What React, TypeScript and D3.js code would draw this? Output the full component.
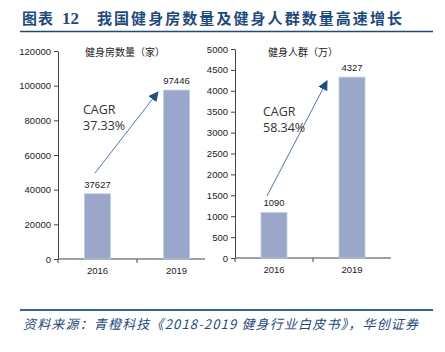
import { useRef, useEffect } from "react";
import * as d3 from "d3";

const years = ["2016", "2019"];
const gymCounts = [37627, 97446];
const peopleCounts = [1090, 4327];
const gymTicks = [0, 20000, 40000, 60000, 80000, 100000, 120000];
const peopleTicks = [0, 500, 1000, 1500, 2000, 2500, 3000, 3500, 4000, 4500, 5000];
const gymTitle = "健身房数量（家）";
const peopleTitle = "健身人群（万）";
const gymCagr = "37.33%";
const peopleCagr = "58.34%";
const chartTitle = "我国健身房数量及健身人群数量高速增长";
const source = "资料来源：青橙科技《2018-2019 健身行业白皮书》，华创证券";

const W = 445;
const H = 352;
const navy = "#1f4a7c";
const barColor = "#9aa6ca";
const axisColor = "#444";

const App = () => {
    const svgRef = useRef(null);

    useEffect(() => {
        const svg = d3.select(svgRef.current);
        svg.selectAll("*").remove();

        // header
        svg.append("text")
            .attr("x", 22).attr("y", 24)
            .attr("font-family", "Noto Sans CJK SC").attr("font-weight", "bold")
            .attr("font-size", 15).attr("fill", navy)
            .attr("textLength", 31).attr("lengthAdjust", "spacing")
            .text("图表");
        svg.append("text")
            .attr("x", 62).attr("y", 24)
            .attr("font-family", "Liberation Serif").attr("font-weight", "bold")
            .attr("font-size", 17).attr("fill", navy)
            .text("12");
        svg.append("text")
            .attr("x", 97).attr("y", 24)
            .attr("font-family", "Noto Sans CJK SC").attr("font-weight", "bold")
            .attr("font-size", 15).attr("fill", navy)
            .attr("textLength", 305).attr("lengthAdjust", "spacing")
            .text(chartTitle);
        svg.append("line")
            .attr("x1", 20).attr("x2", 433).attr("y1", 31.5).attr("y2", 31.5)
            .attr("stroke", navy).attr("stroke-width", 1.5);

        // footer
        svg.append("line")
            .attr("x1", 20).attr("x2", 433).attr("y1", 310).attr("y2", 310)
            .attr("stroke", "#3a6496").attr("stroke-width", 2);
        svg.append("text")
            .attr("x", 23).attr("y", 329)
            .attr("font-family", "Noto Sans CJK SC").attr("font-style", "italic")
            .attr("font-size", 13).attr("fill", navy)
            .attr("textLength", 395)
            .text(source);

        const defs = svg.append("defs");
        defs.append("marker")
            .attr("id", "arrowHead")
            .attr("viewBox", "0 0 10 10")
            .attr("refX", 9).attr("refY", 5)
            .attr("markerWidth", 10).attr("markerHeight", 10)
            .attr("markerUnits", "userSpaceOnUse")
            .attr("orient", "auto")
            .append("path")
            .attr("d", "M0,0 L10,5 L0,10 Z")
            .attr("fill", "#1f4e86");

        const drawPanel = (cfg) => {
            const yScale = d3.scaleLinear()
                .domain([0, cfg.ticks[cfg.ticks.length - 1]])
                .range([cfg.y0, cfg.y1]);
            const xScale = d3.scaleBand()
                .domain(years)
                .range([cfg.x0, cfg.x0 + cfg.bandW * 2]);
            const g = svg.append("g");

            // y axis
            const yAxis = g.append("g")
                .attr("transform", `translate(${cfg.x0}, 0)`)
                .call(d3.axisLeft(yScale).tickValues(cfg.ticks).tickFormat(d3.format("d"))
                    .tickSize(4).tickSizeOuter(0).tickPadding(3));
            yAxis.select(".domain").attr("stroke", axisColor);
            yAxis.selectAll(".tick line").attr("stroke", axisColor);
            yAxis.selectAll("text")
                .attr("font-family", "Liberation Sans").attr("font-size", 9.5).attr("fill", "#222");

            // x axis
            g.append("line")
                .attr("x1", cfg.x0).attr("x2", cfg.xEnd)
                .attr("y1", cfg.y0).attr("y2", cfg.y0)
                .attr("stroke", axisColor);
            [cfg.x0, cfg.x0 + cfg.bandW].forEach(x => {
                g.append("line")
                    .attr("x1", x).attr("x2", x)
                    .attr("y1", cfg.y0).attr("y2", cfg.y0 + 4)
                    .attr("stroke", axisColor);
            });
            g.selectAll(".xlab")
                .data(years)
                .enter().append("text")
                .attr("x", d => xScale(d) + xScale.bandwidth() / 2)
                .attr("y", cfg.y0 + 15)
                .attr("text-anchor", "middle")
                .attr("font-family", "Liberation Sans").attr("font-size", 9.5).attr("fill", "#222")
                .text(d => d);

            // bars
            const barW = 26;
            g.selectAll(".bar")
                .data(cfg.values)
                .enter().append("rect")
                .attr("x", (d, i) => xScale(years[i]) + xScale.bandwidth() / 2 - barW / 2)
                .attr("y", d => yScale(d))
                .attr("width", barW)
                .attr("height", d => cfg.y0 - yScale(d))
                .attr("fill", barColor)
                .attr("stroke", "#c3cbe2").attr("stroke-width", 0.8);
            g.selectAll(".val")
                .data(cfg.values)
                .enter().append("text")
                .attr("x", (d, i) => xScale(years[i]) + xScale.bandwidth() / 2)
                .attr("y", d => yScale(d) - 6)
                .attr("text-anchor", "middle")
                .attr("font-family", "Liberation Sans").attr("font-size", 9.5).attr("fill", "#222")
                .text(d => d);

            // panel title
            g.append("text")
                .attr("x", cfg.titleX).attr("y", 56)
                .attr("text-anchor", "middle")
                .attr("font-family", "Noto Sans CJK SC").attr("font-size", 10).attr("fill", "#222")
                .text(cfg.title);

            // arrow
            g.append("line")
                .attr("x1", cfg.arrow[0]).attr("y1", cfg.arrow[1])
                .attr("x2", cfg.arrow[2]).attr("y2", cfg.arrow[3])
                .attr("stroke", "#4f77a8").attr("stroke-width", 1)
                .attr("marker-end", "url(#arrowHead)");

            // CAGR
            g.append("text")
                .attr("x", cfg.cagrX).attr("y", cfg.cagrY)
                .attr("font-family", "Open Sans").attr("font-size", 12.5).attr("fill", "#333")
                .text("CAGR");
            g.append("text")
                .attr("x", cfg.cagrX).attr("y", cfg.cagrY + 15.5)
                .attr("font-family", "Open Sans").attr("font-size", 12.5).attr("fill", "#333")
                .text(cfg.cagr);
        };

        drawPanel({
            ticks: gymTicks, values: gymCounts, title: gymTitle, cagr: gymCagr,
            x0: 58, xEnd: 205, bandW: 79, y0: 259, y1: 51, titleX: 125,
            arrow: [95, 173, 158, 92], cagrX: 83, cagrY: 114
        });
        drawPanel({
            ticks: peopleTicks, values: peopleCounts, title: peopleTitle, cagr: peopleCagr,
            x0: 235, xEnd: 391, bandW: 78, y0: 258, y1: 49, titleX: 303,
            arrow: [267, 196, 327, 81], cagrX: 263, cagrY: 116
        });
    }, []);

    return (
        <div style={{ margin: -8 }}>
            <svg ref={svgRef} width={W} height={H} style={{ display: "block", background: "#fff" }}></svg>
        </div>
    );
};

export default App;
